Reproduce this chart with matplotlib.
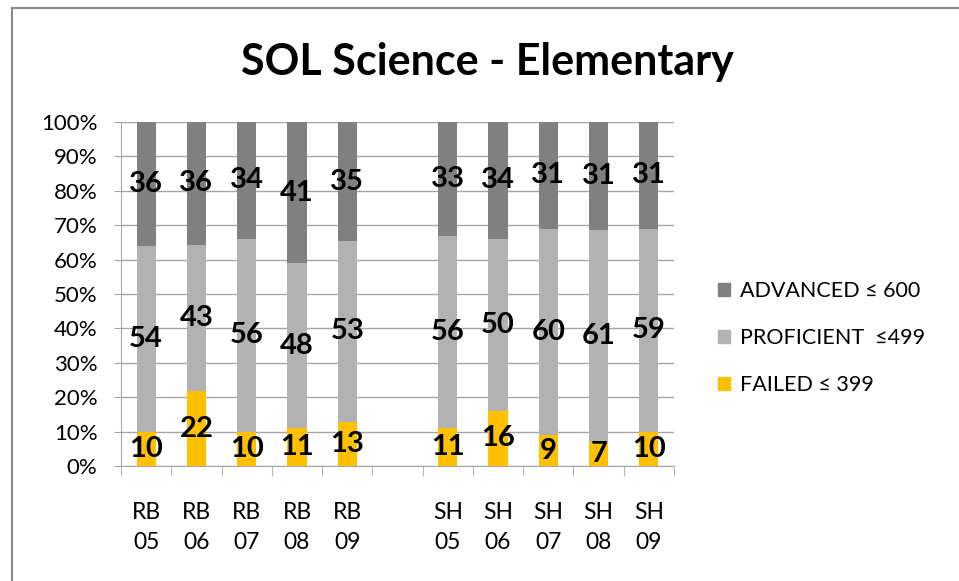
import numpy as np
import matplotlib.pyplot as plt
from matplotlib.patches import Rectangle, Patch

categories = ['RB\n05', 'RB\n06', 'RB\n07', 'RB\n08', 'RB\n09', '',
              'SH\n05', 'SH\n06', 'SH\n07', 'SH\n08', 'SH\n09']
failed = [10, 22, 10, 11, 13, None, 11, 16, 9, 7, 10]
proficient = [54, 43, 56, 48, 53, None, 56, 50, 60, 61, 59]
advanced = [36, 36, 34, 41, 35, None, 33, 34, 31, 31, 31]

c_adv = '#808080'
c_pro = '#b2b2b2'
c_fail = '#ffc000'

plt.rcParams['font.family'] = ['Lato', 'DejaVu Sans']

fig = plt.figure(figsize=(9.59, 5.81), dpi=100)
ax = fig.add_axes([121/959, 115/581, 553/959, 344/581])

# frame around chart area
fig.patches.append(Rectangle((12/959, -0.1), 1.2, (581-8)/581 + 0.1, transform=fig.transFigure,
                             fill=False, edgecolor='#888888', linewidth=1.5))

x = np.arange(len(categories))
w = 0.38
for i in range(len(categories)):
    if failed[i] is None:
        continue
    tot = failed[i] + proficient[i] + advanced[i]
    f = failed[i] / tot * 100
    p = proficient[i] / tot * 100
    a = advanced[i] / tot * 100
    ax.bar(x[i], f, w, color=c_fail, zorder=3)
    ax.bar(x[i], p, w, bottom=f, color=c_pro, zorder=3)
    ax.bar(x[i], a, w, bottom=f + p, color=c_adv, zorder=3)
    for val, y in [(failed[i], f / 2), (proficient[i], f + p / 2), (advanced[i], f + p + a / 2)]:
        ax.text(x[i], y, str(val), ha='center', va='center', fontsize=21,
                fontweight='bold', color='black', zorder=4)

ax.set_xlim(-0.5, len(categories) - 0.5)
ax.set_ylim(0, 100)
ax.set_yticks(np.arange(0, 101, 10))
ax.set_yticklabels(['%d%%' % v for v in range(0, 101, 10)], fontsize=16)
ax.yaxis.grid(True, color='#a6a6a6', linewidth=1, zorder=0)
ax.set_xticks(x)
ax.set_xticklabels(categories, fontsize=16.5, linespacing=1.5)
ax.set_xticks(np.arange(-0.5, len(categories), 1), minor=True)
ax.tick_params(axis='x', which='major', length=0, pad=26)
ax.tick_params(axis='x', which='minor', length=7, color='#a6a6a6')
ax.tick_params(axis='y', length=5, color='#a6a6a6', pad=12)
for s in ['top', 'right']:
    ax.spines[s].set_visible(False)
ax.spines['left'].set_color('#a6a6a6')
ax.spines['bottom'].set_color('#a6a6a6')

fig.text(487/959, 1 - 62/581, 'SOL Science - Elementary', ha='center', va='center',
         fontsize=31, fontweight='bold')

handles = [Patch(color=c_adv, label='ADVANCED \u2264 600'),
           Patch(color=c_pro, label='PROFICIENT  \u2264499'),
           Patch(color=c_fail, label='FAILED \u2264 399')]
fig.legend(handles=handles, loc='center left', bbox_to_anchor=(699/959, 1 - 338/581),
           frameon=False, fontsize=15.5, handlelength=0.55, handleheight=0.55,
           handletextpad=0.45, labelspacing=1.25)

fig.savefig('out.png', dpi=100)
